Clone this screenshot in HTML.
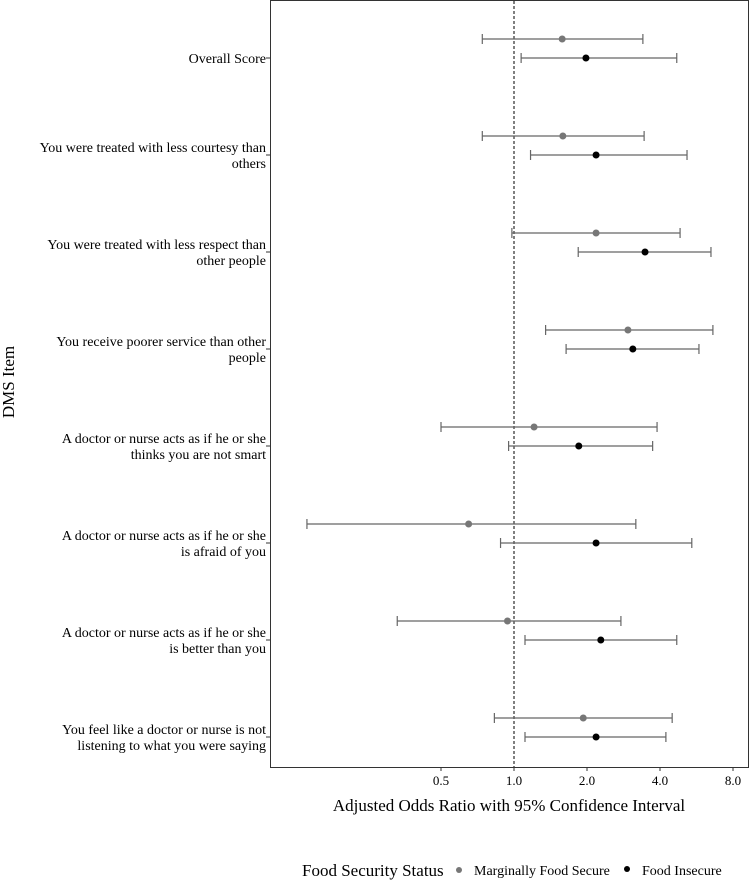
<!DOCTYPE html>
<html><head><meta charset="utf-8"><style>
body{margin:0;background:#fff;width:750px;height:881px;overflow:hidden}
svg text{font-family:"Liberation Serif",serif;fill:#000}
</style></head><body>
<svg width="750" height="881" id="chart">
<rect x="270.5" y="0.5" width="478" height="767" fill="none" stroke="#333" stroke-width="1"/>
<g id="marks"></g>
<text x="2" y="0" transform="translate(14,384) rotate(-90)" font-size="17" text-anchor="middle">DMS Item</text>
<text x="509" y="811" font-size="17" text-anchor="middle">Adjusted Odds Ratio with 95% Confidence Interval</text>
<g>
<text x="302" y="876" font-size="17">Food Security Status</text>
<circle cx="459" cy="870" r="3" fill="#777"/>
<text x="474" y="875" font-size="14">Marginally Food Secure</text>
<circle cx="627" cy="869" r="3" fill="#000"/>
<text x="642" y="875" font-size="14">Food Insecure</text>
</g>
</svg>
<script>
const categories=[["Overall Score"],["You were treated with less courtesy than","others"],["You were treated with less respect than","other people"],["You receive poorer service than other","people"],["A doctor or nurse acts as if he or she","thinks you are not smart"],["A doctor or nurse acts as if he or she","is afraid of you"],["A doctor or nurse acts as if he or she","is better than you"],["You feel like a doctor or nurse is not","listening to what you were saying"]];
const marginalOR=[1.58,1.59,2.18,2.95,1.21,0.65,0.94,1.93];
const marginalLow=[0.74,0.74,0.98,1.35,0.50,0.14,0.33,0.83];
const marginalHigh=[3.40,3.44,4.84,6.61,3.89,3.18,2.76,4.49];
const insecureOR=[1.98,2.18,3.47,3.09,1.85,2.18,2.28,2.18];
const insecureLow=[1.07,1.17,1.84,1.64,0.95,0.88,1.11,1.11];
const insecureHigh=[4.69,5.17,6.49,5.79,3.73,5.41,4.69,4.23];
const xTicks=[0.5,1,2,4,8];
const xTickLabels=["0.5","1.0","2.0","4.0","8.0"];
const NS="http://www.w3.org/2000/svg";
const g=document.getElementById('marks');
function xs(v){return 514+73*Math.log2(v);}
function ys(i){return 58+97*i;}
function mk(t,a){const e=document.createElementNS(NS,t);for(const k in a)e.setAttribute(k,a[k]);g.appendChild(e);return e;}
let ref=mk('line',{x1:xs(1),x2:xs(1),y1:1,y2:767,stroke:'#000','stroke-dasharray':'3,2','stroke-width':1});


xTicks.forEach((v,i)=>{
 let t=mk('line',{x1:xs(v),x2:xs(v),y1:767,y2:771,stroke:'#333'});
 
 
 let l=mk('text',{x:xs(v),y:785,'font-size':13,'text-anchor':'middle'});l.textContent=xTickLabels[i];
 
 
});
function series(o,lo,hi,off,col,name){
 o.forEach((v,i)=>{
  const y=ys(i)+off;
  let ln=mk('line',{x1:xs(lo[i]),x2:xs(hi[i]),y1:y,y2:y,stroke:'#666','stroke-width':1.2});
  
  
  [lo[i],hi[i]].forEach(c=>{let cap=mk('line',{x1:xs(c),x2:xs(c),y1:y-5,y2:y+5,stroke:'#666','stroke-width':1.2});
   
   });
  let p=mk('circle',{cx:xs(v),cy:y,r:3.5,fill:col});
  
  
 });
}
series(marginalOR,marginalLow,marginalHigh,-19,'#777','marginal');
series(insecureOR,insecureLow,insecureHigh,0,'#000','insecure');
categories.forEach((c,i)=>{
 const y=ys(i);
 let t=mk('line',{x1:266,x2:270,y1:y,y2:y,stroke:'#333'});
 
 
 const y0=c.length===1?y+5:y-3;
 c.forEach((s,j)=>{let l=mk('text',{x:266,y:y0+16*j,'font-size':14,'text-anchor':'end'});l.textContent=s;
  
  });
});
</script>
</body></html>
